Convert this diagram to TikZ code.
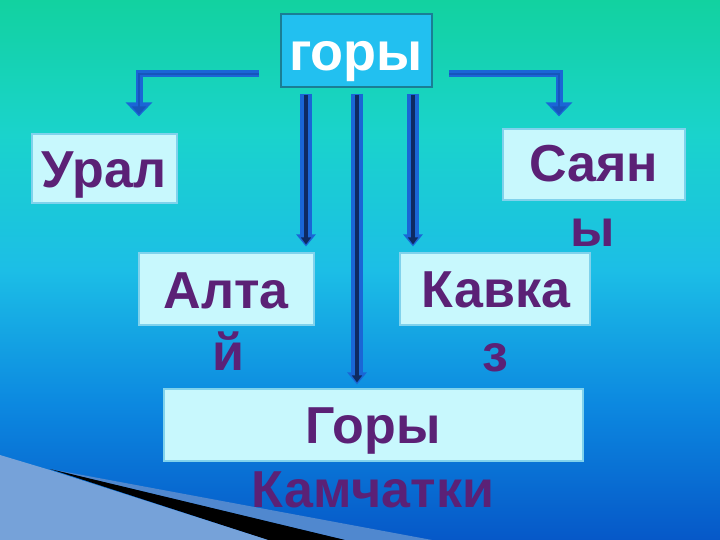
\documentclass[tikz,border=0pt]{standalone}
\usepackage{fontspec}
\setmainfont{Liberation Sans}
\usetikzlibrary{arrows.meta}
\definecolor{c1}{HTML}{12D2A0}
\definecolor{c2}{HTML}{1AD3CC}
\definecolor{c3}{HTML}{1CBEE6}
\definecolor{c4}{HTML}{0C88E0}
\definecolor{c5}{HTML}{0658C8}
\definecolor{boxfill}{HTML}{C8F8FD}
\definecolor{boxline}{HTML}{80D2EC}
\definecolor{topfill}{HTML}{22C0F0}
\definecolor{topline}{HTML}{1A7E95}
\definecolor{txt}{HTML}{5B2176}
\definecolor{arrout}{HTML}{1A66D6}
\definecolor{arrin}{HTML}{0E2A62}
\definecolor{elbin}{HTML}{1656BC}
\definecolor{hatch}{HTML}{76A2D9}
\definecolor{band}{HTML}{5088CF}
\pgfdeclareverticalshading{bgsh}{100bp}{color(0bp)=(c5); color(25bp)=(c5); color(37.5bp)=(c4); color(50bp)=(c3); color(62.5bp)=(c2); color(75bp)=(c1); color(100bp)=(c1)}
\tikzset{
  lbox/.style={draw=boxline, line width=1.2pt, fill=boxfill, inner sep=0pt},
  tbox/.style={draw=topline, line width=1.2pt, fill=topfill, inner sep=0pt},
  lbl/.style={anchor=base, inner sep=0pt, text=txt, font=\fontsize{52}{62}\selectfont\bfseries},
  tlbl/.style={anchor=base, inner sep=0pt, text=white, font=\fontsize{54}{62}\selectfont\bfseries},
  vout/.style={draw=arrout, line width=12pt, -{Triangle[width=19pt,length=12pt]}},
  vin/.style={draw=arrin, line width=4pt, -{Triangle[width=10pt,length=7pt]}},
  eout/.style={draw=arrout, line width=7pt, -{Triangle[width=26pt,length=14pt]}},
  ein/.style={draw=elbin, line width=2.5pt, -{Triangle[width=14pt,length=8pt]}}
}
\begin{document}
\begin{tikzpicture}[x=1pt,y=-1pt]
\useasboundingbox (0,0) rectangle (720,540);
\shade[shading=bgsh] (0,0) rectangle (720,540);
% bottom-left decoration
\fill[band] (50,469) -- (432,540) -- (345,540) -- cycle;
\fill[black] (50,469) -- (345,540) -- (268,540) -- cycle;
\fill[hatch] (0,455) -- (50,470) -- (268,540) -- (0,540) -- cycle;
% boxes
\node[tbox, minimum width=151pt, minimum height=73pt] (top) at (356.5,50.5) {};
\node[lbox, minimum width=145pt, minimum height=69pt] (ural) at (104.5,168.5) {};
\node[lbox, minimum width=182pt, minimum height=71pt] (sayan) at (594,164.5) {};
\node[lbox, minimum width=175pt, minimum height=72pt] (altai) at (226.5,289) {};
\node[lbox, minimum width=190pt, minimum height=72pt] (kavkaz) at (495,289) {};
\node[lbox, minimum width=419pt, minimum height=72pt] (kamch) at (373.5,425) {};
% texts
\node[tlbl] (ttop) at (356,71) {горы};
\node[lbl] (tural) at (104,188) {Урал};
\node[lbl] (tsay1) at (594,182) {Саян};
\node[lbl] (tsay2) at (593,247) {ы};
\node[lbl] (talt1) at (226,308) {Алта};
\node[lbl] (talt2) at (228,370) {й};
\node[lbl] (tkav1) at (496,307) {Кавка};
\node[lbl] (tkav2) at (495,371) {з};
\node[lbl] (tkam1) at (373,443) {Горы};
\node[lbl] (tkam2) at (373,507) {Камчатки};
% connector coordinates
\coordinate (x1) at (306,0);
\coordinate (x2) at (357,0);
\coordinate (x3) at (413,0);
\coordinate (el) at (259,74);
\coordinate (elc) at (139,74);
\coordinate (er) at (449,74);
\coordinate (erc) at (559,74);
% vertical arrows
\foreach \xx/\tg/\sh in {x1/altai/6pt, x3/kavkaz/6pt, x2/kamch/4pt}{
  \draw[vout, shorten <=6pt, shorten >=\sh] (top.south -| \xx) -- (\tg.north -| \xx);
  \draw[vin, shorten <=7pt, shorten >=\sh+2pt] (top.south -| \xx) -- (\tg.north -| \xx);
}
% elbow arrows
\draw[eout, shorten >=17pt] (el) -- (elc) -- (elc |- ural.north);
\draw[ein, shorten >=19pt] (el) -- (elc) -- (elc |- ural.north);
\draw[eout, shorten >=12pt] (er) -- (erc) -- (erc |- sayan.north);
\draw[ein, shorten >=14pt] (er) -- (erc) -- (erc |- sayan.north);
\end{tikzpicture}
\end{document}
